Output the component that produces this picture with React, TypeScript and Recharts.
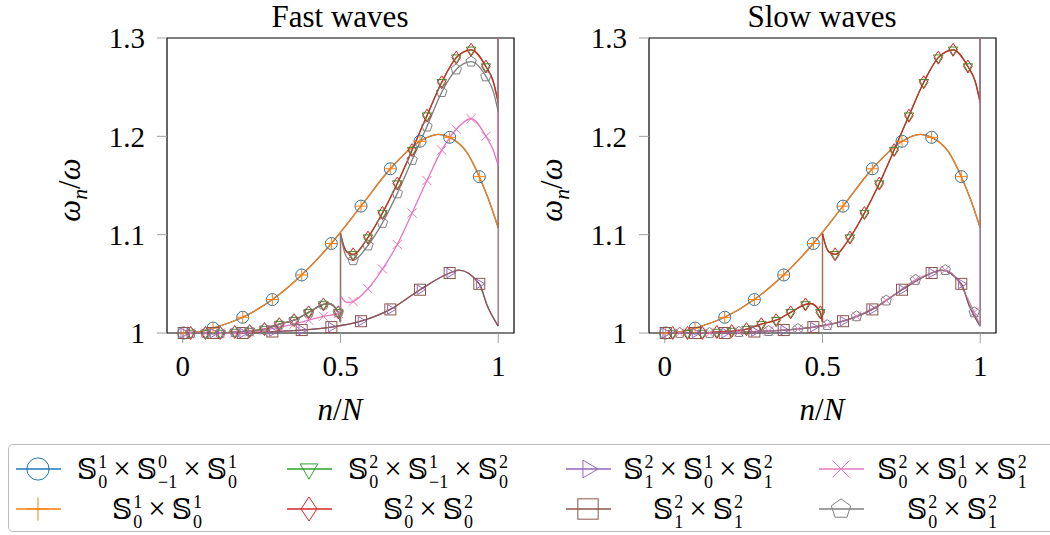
import React from 'react';
import { ComposedChart, Line, XAxis, YAxis, ReferenceArea } from 'recharts';

const SERIF = '"Liberation Serif", "DejaVu Serif", serif';
const MATH = '"Liberation Serif", "DejaVu Serif", "DejaVu Sans", serif';

const COL = {
  blue: '#1f77b4',
  orange: '#ff7f0e',
  green: '#2ca02c',
  red: '#d62728',
  purple: '#9467bd',
  brown: '#8c564b',
  pink: '#e377c2',
  grey: '#7f7f7f',
};

const xTicks = [0, 0.5, 1];
const yTicks = [1, 1.1, 1.2, 1.3];
const yTop = 1.3;

// n/N positions of the markers
const xCoarse = [0.003, 0.096, 0.19, 0.284, 0.377, 0.471, 0.565, 0.658, 0.752, 0.846, 0.94];
const xFine = [0.025, 0.072, 0.119, 0.165, 0.212, 0.259, 0.306, 0.353, 0.399, 0.446, 0.493, 0.54, 0.587, 0.633, 0.68, 0.727, 0.774, 0.821, 0.867, 0.914, 0.961];
const xShift = [0.047, 0.142, 0.235, 0.329, 0.422, 0.515, 0.608, 0.702, 0.795, 0.889, 0.981];

// S01 x S0-1 x S01 / S01 x S01
const aMarkY = [1, 1.005, 1.016, 1.034, 1.059, 1.091, 1.129, 1.167, 1.195, 1.199, 1.159];
const aLineX = [0, 0.05, 0.096, 0.19, 0.284, 0.377, 0.471, 0.565, 0.658, 0.752, 0.81, 0.846, 0.9, 0.94, 0.968, 1];
const aLineY = [1, 1.001, 1.005, 1.016, 1.034, 1.059, 1.091, 1.129, 1.167, 1.195, 1.202, 1.199, 1.184, 1.159, 1.137, 1.107];

// S02 x S1-1 x S02 / S02 x S02
const bMarkY = [1, 1, 1, 1.001, 1.002, 1.004, 1.009, 1.013, 1.021, 1.029, 1.021, 1.08, 1.097, 1.122, 1.152, 1.186, 1.221, 1.255, 1.28, 1.288, 1.271];
const bLoX = [0, 0.119, 0.165, 0.212, 0.259, 0.306, 0.353, 0.399, 0.446, 0.462, 0.493, 0.5];
const bLoY = [1, 1, 1.001, 1.002, 1.004, 1.009, 1.013, 1.021, 1.029, 1.03, 1.021, 1.011];
const bHiX = [0.5, 0.512, 0.522, 0.54, 0.587, 0.633, 0.68, 0.727, 0.774, 0.821, 0.867, 0.914, 0.961, 0.984, 1];
const bHiY = [1.101, 1.087, 1.082, 1.08, 1.097, 1.122, 1.152, 1.186, 1.221, 1.255, 1.28, 1.288, 1.271, 1.256, 1.234];

// S02 x S12, fast waves
const gMarkY = [1, 1, 1, 1.001, 1.002, 1.004, 1.009, 1.013, 1.021, 1.029, 1.021, 1.074, 1.089, 1.112, 1.142, 1.176, 1.21, 1.245, 1.268, 1.276, 1.261];
const gHiX = [0.5, 0.512, 0.522, 0.54, 0.587, 0.633, 0.68, 0.727, 0.774, 0.821, 0.867, 0.914, 0.961, 0.984, 1];
const gHiY = [1.1, 1.083, 1.076, 1.074, 1.089, 1.112, 1.142, 1.176, 1.21, 1.245, 1.268, 1.276, 1.261, 1.246, 1.225];

// S02 x S01 x S12, fast waves
const pMarkY = [1, 1, 1, 1, 1.001, 1.003, 1.006, 1.009, 1.013, 1.017, 1.02, 1.032, 1.045, 1.065, 1.09, 1.122, 1.155, 1.186, 1.207, 1.218, 1.2];
const pLoX = [0, 0.165, 0.212, 0.259, 0.306, 0.353, 0.399, 0.446, 0.493, 0.5];
const pLoY = [1, 1, 1.001, 1.003, 1.006, 1.009, 1.013, 1.017, 1.02, 1.021];
const pHiX = [0.5, 0.506, 0.524, 0.54, 0.587, 0.633, 0.68, 0.727, 0.774, 0.821, 0.867, 0.914, 0.961, 0.984, 1];
const pHiY = [1.038, 1.035, 1.031, 1.032, 1.045, 1.065, 1.09, 1.122, 1.155, 1.186, 1.207, 1.218, 1.2, 1.186, 1.17];

// S12 x S01 x S12 / S12 x S12
const cMarkY = [1, 1, 1, 1.0015, 1.003, 1.006, 1.012, 1.024, 1.044, 1.061, 1.05];
const cLineX = [0, 0.19, 0.284, 0.377, 0.471, 0.565, 0.658, 0.752, 0.846, 0.875, 0.94, 0.965, 1];
const cLineY = [1, 1, 1.0015, 1.003, 1.006, 1.012, 1.024, 1.044, 1.061, 1.064, 1.05, 1.028, 1.007];

// S02 x S01 x S12 / S02 x S12, slow waves
const dMarkY = [1, 1, 1.001, 1.002, 1.004, 1.008, 1.017, 1.033, 1.054, 1.064, 1.021];
const dLineX = [0, 0.047, 0.142, 0.235, 0.329, 0.422, 0.515, 0.608, 0.702, 0.795, 0.889, 0.981, 1];
const dLineY = [1, 1, 1, 1.001, 1.002, 1.004, 1.008, 1.017, 1.033, 1.054, 1.064, 1.021, 1.007];

type Pt = { x: number; y: number };
const pts = (xs: number[], ys: number[]): Pt[] => xs.map((x, i) => ({ x, y: ys[i] }));
const lastOf = (ys: number[]) => ys[ys.length - 1];
const jumpUp = (xs: number[], ys: number[], top: number): Pt[] => [
  { x: lastOf(xs), y: lastOf(ys) },
  { x: lastOf(xs), y: top },
];
const jumpMid = (lx: number[], ly: number[], hy: number[]): Pt[] => [
  { x: lastOf(lx), y: lastOf(ly) },
  { x: lastOf(lx), y: hy[0] },
];

type Shape = 'circle' | 'plus' | 'tridown' | 'diamond' | 'triright' | 'square' | 'cross' | 'pentagon';

function Marker({ shape, cx, cy, color, s = 1 }: { shape: Shape; cx: number; cy: number; color: string; s?: number }) {
  const common = { fill: 'none', stroke: color, strokeWidth: 1 };
  if (shape === 'circle') return <circle cx={cx} cy={cy} r={6 * s} {...common} />;
  if (shape === 'plus') {
    const h = 6.3 * s;
    return <path d={`M${cx - h},${cy}H${cx + h}M${cx},${cy - h}V${cy + h}`} {...common} />;
  }
  if (shape === 'cross') {
    const h = 4.6 * s;
    return <path d={`M${cx - h},${cy - h}L${cx + h},${cy + h}M${cx - h},${cy + h}L${cx + h},${cy - h}`} {...common} />;
  }
  if (shape === 'tridown') {
    const r = 5.5 * s;
    return <polygon points={`${cx - r * 0.866},${cy - r / 2} ${cx + r * 0.866},${cy - r / 2} ${cx},${cy + r}`} {...common} />;
  }
  if (shape === 'triright') {
    const r = 5.5 * s;
    return <polygon points={`${cx + r},${cy} ${cx - r / 2},${cy - r * 0.866} ${cx - r / 2},${cy + r * 0.866}`} {...common} />;
  }
  if (shape === 'diamond') {
    const w = 4.3 * s;
    const h = 6.5 * s;
    return <polygon points={`${cx},${cy - h} ${cx + w},${cy} ${cx},${cy + h} ${cx - w},${cy}`} {...common} />;
  }
  if (shape === 'square') {
    const h = 5.5 * s;
    return <rect x={cx - h} y={cy - h} width={2 * h} height={2 * h} {...common} />;
  }
  const r = 5.5 * s;
  const p = [0, 1, 2, 3, 4]
    .map((k) => {
      const a = -Math.PI / 2 + (k * 2 * Math.PI) / 5;
      return `${cx + r * Math.cos(a)},${cy + r * Math.sin(a)}`;
    })
    .join(' ');
  return <polygon points={p} {...common} />;
}

type Series = { id: string; color: string; shape: Shape; segs: Pt[][]; jumps: Pt[][]; marks: Pt[]; alpha?: number };

const aSegs = [pts(aLineX, aLineY)];
const aJumps = [jumpUp(aLineX, aLineY, yTop)];
const bSegs = [pts(bLoX, bLoY), pts(bHiX, bHiY)];
const bJumps = [jumpMid(bLoX, bLoY, bHiY), jumpUp(bHiX, bHiY, yTop)];
const cSegs = [pts(cLineX, cLineY)];
const cJumps = [jumpUp(cLineX, cLineY, yTop)];

const common6 = (): Series[] => [
  { id: 's1', color: COL.blue, shape: 'circle', segs: aSegs, jumps: aJumps, marks: pts(xCoarse, aMarkY) },
  { id: 's2', color: COL.orange, shape: 'plus', segs: aSegs, jumps: aJumps, marks: pts(xCoarse, aMarkY) },
  { id: 's3', color: COL.green, shape: 'tridown', segs: bSegs, jumps: bJumps, marks: pts(xFine, bMarkY) },
  { id: 's4', color: COL.red, shape: 'diamond', segs: bSegs, jumps: bJumps, marks: pts(xFine, bMarkY) },
  { id: 's5', color: COL.purple, shape: 'triright', segs: cSegs, jumps: cJumps, marks: pts(xCoarse, cMarkY) },
  { id: 's6', color: COL.brown, shape: 'square', segs: cSegs, jumps: cJumps, marks: pts(xCoarse, cMarkY) },
];

const fastSeries: Series[] = [
  ...common6(),
  {
    id: 's7', color: COL.pink, shape: 'cross',
    segs: [pts(pLoX, pLoY), pts(pHiX, pHiY)],
    jumps: [jumpMid(pLoX, pLoY, pHiY), jumpUp(pHiX, pHiY, yTop)],
    marks: pts(xFine, pMarkY),
  },
  {
    id: 's8', color: COL.grey, shape: 'pentagon',
    segs: [pts(bLoX, bLoY), pts(gHiX, gHiY)],
    jumps: [jumpMid(bLoX, bLoY, gHiY), jumpUp(gHiX, gHiY, yTop)],
    marks: pts(xFine, gMarkY),
  },
];

const dSegs = [pts(dLineX, dLineY)];
const dJumps = [jumpUp(dLineX, dLineY, yTop)];
const slowSeries: Series[] = [
  ...common6(),
  { id: 's7', color: COL.pink, shape: 'cross', segs: dSegs, jumps: dJumps, marks: pts(xShift, dMarkY), alpha: 0.6 },
  { id: 's8', color: COL.grey, shape: 'pentagon', segs: dSegs, jumps: dJumps, marks: pts(xShift, dMarkY), alpha: 0.5 },
];

const tickStyle = { fill: '#000', fontSize: 29, fontFamily: SERIF };

function Panel({ left, title, series }: { left: number; title: string; series: Series[] }) {
  const items: React.ReactNode[] = [];
  series.forEach((s) => {
    s.segs.forEach((seg, i) =>
      items.push(
        <Line key={`${s.id}-seg${i}`} data={seg} dataKey="y" type="monotone" stroke={s.color} strokeOpacity={s.alpha ?? 1}
          strokeWidth={1.3} dot={false} activeDot={false} isAnimationActive={false} />
      )
    );
    s.jumps.forEach((seg, i) =>
      items.push(
        <Line key={`${s.id}-jump${i}`} data={seg} dataKey="y" type="linear" stroke={s.color} strokeOpacity={0.6}
          strokeWidth={1.3} dot={false} activeDot={false} isAnimationActive={false} />
      )
    );
    items.push(
      <Line key={`${s.id}-marks`} data={s.marks} dataKey="y" stroke="none" activeDot={false} isAnimationActive={false}
        dot={(p: any) => <Marker key={`${s.id}-m${p.index}`} shape={s.shape} cx={p.cx} cy={p.cy} color={s.color} />} />
    );
  });

  return (
    <div style={{ position: 'absolute', left, top: 0, width: 530, height: 440 }}>
      <ComposedChart width={530} height={440} margin={{ top: 38, right: 16, bottom: 57, left: 107 }}>
        <XAxis type="number" dataKey="x" domain={[-0.05, 1.05]} ticks={xTicks} axisLine={false}
          tickLine={{ stroke: '#a0a0a0' }} tickSize={10} tickMargin={12} height={50} tick={tickStyle} />
        <YAxis type="number" dataKey="y" domain={[1, 1.3]} ticks={yTicks} axisLine={false}
          tickLine={{ stroke: '#a0a0a0' }} tickSize={10} tickMargin={12} width={60} tick={tickStyle} />
        <ReferenceArea x1={-0.05} x2={1.05} y1={1} y2={1.3} fill="none" stroke="#000" strokeWidth={1.2} />
        {items}
      </ComposedChart>
      <div style={{ position: 'absolute', left: 190, width: 300, top: 1, textAlign: 'center', fontFamily: SERIF, fontSize: 31, lineHeight: '31px' }}>
        {title}
      </div>
      <div style={{ position: 'absolute', left: 70, top: 190, transform: 'translate(-50%, -50%) rotate(-90deg)', whiteSpace: 'nowrap', fontFamily: SERIF, fontSize: 31, fontStyle: 'italic' }}>
        ω<span style={{ fontSize: '0.7em', position: 'relative', top: 7 }}>n</span>
        <span style={{ fontStyle: 'normal' }}>/</span>ω
      </div>
      <div style={{ position: 'absolute', left: 190, width: 300, top: 392, textAlign: 'center', whiteSpace: 'nowrap', fontFamily: SERIF, fontSize: 31 }}>
        <i>n</i>/<i>N</i>
      </div>
    </div>
  );
}

// legend text pieces: [superscript, subscript]
const names: [string, string][][] = [
  [['1', '0'], ['0', '−1'], ['1', '0']],
  [['1', '0'], ['1', '0']],
  [['2', '0'], ['1', '−1'], ['2', '0']],
  [['2', '0'], ['2', '0']],
  [['2', '1'], ['1', '0'], ['2', '1']],
  [['2', '1'], ['2', '1']],
  [['2', '0'], ['1', '0'], ['2', '1']],
  [['2', '0'], ['2', '1']],
];
const legendColor = [COL.blue, COL.orange, COL.green, COL.red, COL.purple, COL.brown, COL.pink, COL.grey];
const legendShape: Shape[] = ['circle', 'plus', 'tridown', 'diamond', 'triright', 'square', 'cross', 'pentagon'];
const legendLineX = [16, 287, 566, 819];
const legendTextX = [157, 428, 698, 952];
const legendRowY = [469, 509];

function SS({ sup, sub }: { sup: string; sub: string }) {
  return (
    <span style={{ display: 'inline-flex', alignItems: 'center', verticalAlign: 'middle' }}>
      <span>𝕊</span>
      <span style={{ display: 'inline-flex', flexDirection: 'column', fontSize: 18, lineHeight: '20px', marginLeft: 1, position: 'relative', top: 3 }}>
        <span>{sup}</span>
        <span>{sub}</span>
      </span>
    </span>
  );
}

function Legend() {
  return (
    <>
      <div style={{ position: 'absolute', left: 8, top: 444, width: 1060, height: 88, border: '1px solid #bbbbbb', borderRadius: 5, boxSizing: 'border-box' }} />
      {names.map((nm, i) => {
        const col = Math.floor(i / 2);
        const row = i % 2;
        const y = legendRowY[row];
        return (
          <React.Fragment key={i}>
            <svg style={{ position: 'absolute', left: legendLineX[col], top: y - 16 }} width={46} height={32}>
              <line x1={0} x2={45} y1={16} y2={16} stroke={legendColor[i]} strokeWidth={1.3} />
              <Marker shape={legendShape[i]} cx={22} cy={16} color={legendColor[i]} s={1.85} />
            </svg>
            <div style={{ position: 'absolute', left: legendTextX[col] - 150, width: 300, top: y - 21, height: 42, display: 'flex', justifyContent: 'center', alignItems: 'center', whiteSpace: 'nowrap', fontFamily: MATH, fontSize: 28 }}>
              {nm.map((f, k) => (
                <React.Fragment key={k}>
                  {k > 0 && <span style={{ margin: '0 6px', fontSize: 31 }}>×</span>}
                  <SS sup={f[0]} sub={f[1]} />
                </React.Fragment>
              ))}
            </div>
          </React.Fragment>
        );
      })}
    </>
  );
}

export default function App() {
  return (
    <div style={{ position: 'absolute', left: 0, top: 0, width: 1050, height: 535, background: '#fff', overflow: 'hidden' }}>
      <Panel left={0} title="Fast waves" series={fastSeries} />
      <Panel left={482} title="Slow waves" series={slowSeries} />
      <Legend />
    </div>
  );
}
